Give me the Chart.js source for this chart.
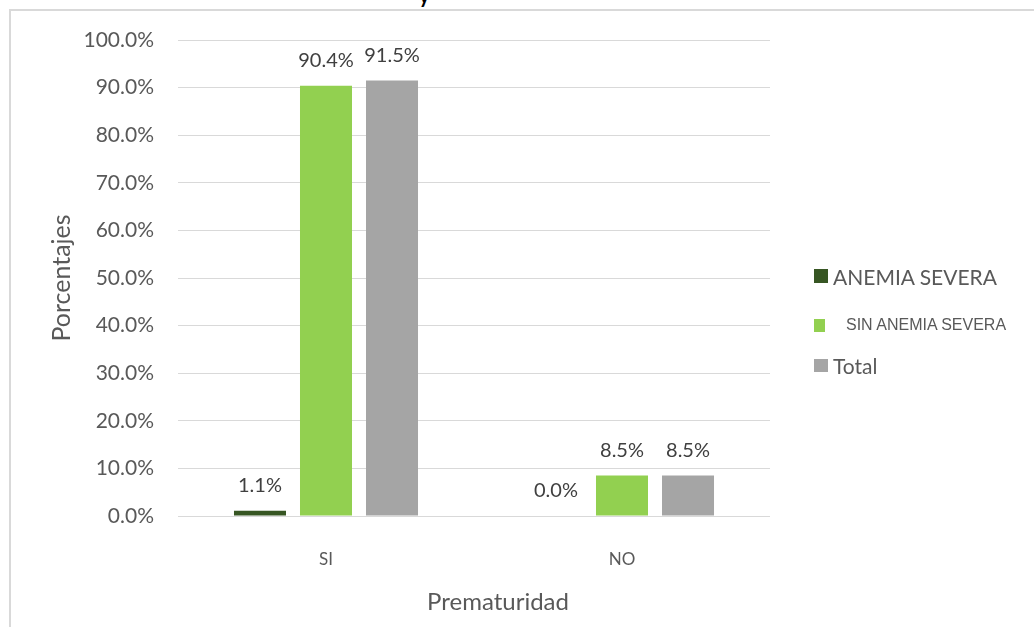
<!DOCTYPE html>
<html>
<head>
<meta charset="utf-8">
<script src="https://cdn.jsdelivr.net/npm/chart.js@4/dist/chart.umd.min.js"></script>
<style>
  html, body { margin: 0; padding: 0; background: #fff; }
  #wrap { position: relative; width: 1034px; height: 627px; overflow: hidden; }
  #frame { position: absolute; left: 9px; top: 9px; right: -5px; bottom: -5px;
           border-left: 2px solid #d9d9d9; border-top: 2px solid #d9d9d9; }
  #titleCut { position: absolute; left: 419px; top: -15px; font: bold 20px Lato, sans-serif;
              line-height: 20px; color: #000; }
  #xTitle { position: absolute; left: 398px; width: 200px; top: 586px; text-align: center;
            font: 24px Lato, sans-serif; line-height: 30px; color: #595959; }
  canvas { position: absolute; left: 0; top: 0; }
  .lg { position: absolute; display: flex; align-items: center; color: #595959; white-space: nowrap; }
  .lg i { display: inline-block; }
</style>
</head>
<body>
<div id="wrap">
  <div id="frame"></div>
  <div id="titleCut">y</div>
  <canvas id="chart" width="1034" height="627"></canvas>
  <div id="xTitle">Prematuridad</div>
  <div id="legend"></div>
</div>
<script>
// datos
const categorias = ['SI', 'NO'];
const series     = ['ANEMIA SEVERA', 'SIN ANEMIA SEVERA', 'Total'];
const anemiaSevera    = [1.1, 0.0];
const sinAnemiaSevera = [90.4, 8.5];
const total           = [91.5, 8.5];
const yTicks = [0, 10, 20, 30, 40, 50, 60, 70, 80, 90, 100];

const colores = ['#375623', '#92D050', '#A5A5A5'];
const FONT = 'Lato, "Open Sans", sans-serif';

// etiquetas encima de cada barra
const barLabels = {
  id: 'barLabels',
  afterDatasetsDraw(chart) {
    const ctx = chart.ctx;
    ctx.save();
    ctx.font = '20px ' + FONT;
    ctx.fillStyle = '#404040';
    ctx.textAlign = 'center';
    ctx.textBaseline = 'middle';
    chart.data.datasets.forEach((ds, i) => {
      chart.getDatasetMeta(i).data.forEach((bar, j) => {
        ctx.fillText(ds.data[j].toFixed(1) + '%', bar.x, bar.y - 25);
      });
    });
    ctx.restore();
  }
};

new Chart(document.getElementById('chart'), {
  type: 'bar',
  data: {
    labels: categorias,
    datasets: [
      { label: series[0], data: anemiaSevera,    backgroundColor: colores[0] },
      { label: series[1], data: sinAnemiaSevera, backgroundColor: colores[1] },
      { label: series[2], data: total,           backgroundColor: colores[2] }
    ]
  },
  options: {
    responsive: false,
    animation: false,
    events: [],
    categoryPercentage: 0.669,
    barPercentage: 0.788,
    layout: { padding: { left: 0, top: 40, right: 264, bottom: 0 } },
    plugins: { legend: { display: false }, tooltip: { enabled: false } },
    scales: {
      x: {
        grid: { display: false },
        border: { display: false },
        ticks: { color: '#595959', font: { family: FONT, size: 17 }, padding: 25 },
        afterFit: (s) => { s.height = 111; }
      },
      y: {
        min: 0, max: 100,
        afterBuildTicks: (s) => { s.ticks = yTicks.map(v => ({ value: v })); },
        grid: { color: '#d9d9d9', lineWidth: 1, drawTicks: false },
        border: { display: false },
        ticks: {
          color: '#595959', font: { family: FONT, size: 21 }, padding: 24,
          callback: (v) => v.toFixed(1) + '%'
        },
        title: {
          display: true, text: 'Porcentajes', color: '#595959',
          font: { family: FONT, size: 25 }, padding: { top: 47, bottom: 0 }
        },
        afterFit: (s) => { s.width = 178; }
      }
    }
  },
  plugins: [barLabels]
});

// leyenda (a la derecha, con tamaños distintos como en la original)
const lgLayout = [
  { top: 264, box: [14, 14], gap: 5,  font: '21px ' + FONT },
  { top: 313, box: [11, 13], gap: 21, font: '16px "Liberation Sans", Arial, sans-serif' },
  { top: 353, box: [14, 13], gap: 5,  font: '21px ' + FONT }
];
const legend = document.getElementById('legend');
series.forEach((name, i) => {
  const L = lgLayout[i];
  const d = document.createElement('div');
  d.className = 'lg';
  d.style.left = '814px';
  d.style.top = L.top + 'px';
  d.style.font = L.font;
  d.style.height = '24px';
  d.innerHTML = '<i style="width:' + L.box[0] + 'px;height:' + L.box[1] + 'px;background:' +
    colores[i] + ';margin-right:' + L.gap + 'px"></i><span>' + name + '</span>';
  legend.appendChild(d);
});
</script>
</body>
</html>
